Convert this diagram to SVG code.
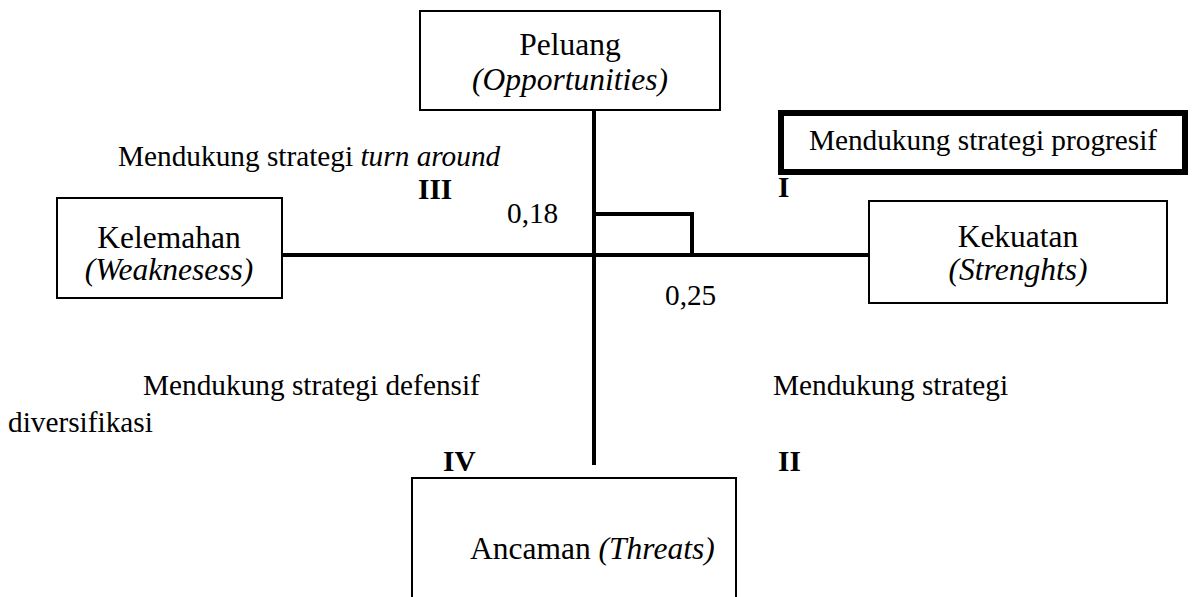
<svg xmlns="http://www.w3.org/2000/svg" width="1194" height="597" viewBox="0 0 1194 597">
<style>
text{font-family:"Liberation Serif","Times New Roman",serif;fill:#000}
.b{font-size:31.5px}
.s{font-size:29.3px}
.r{font-size:29.3px;font-weight:bold}
.i{font-style:italic}
.box{fill:#fff;stroke:#000;stroke-width:2}
.ln{stroke:#000;stroke-width:4;fill:none}
</style>
<rect width="1194" height="597" fill="#fff"/>
<g id="connectors">
<line class="ln" x1="594" y1="110" x2="594" y2="465"/>
<line class="ln" x1="282" y1="255" x2="869" y2="255"/>
<polyline class="ln" points="594,214 692,214 692,255"/>
</g>
<g id="peluang">
<rect class="box" x="420" y="11" width="300" height="99"/>
<text class="b" x="570" y="55" text-anchor="middle">Peluang</text>
<text class="b i" x="570" y="90" text-anchor="middle">(Opportunities)</text>
</g>
<g id="kekuatan">
<rect class="box" x="869" y="201" width="298" height="102"/>
<text class="b" x="1018" y="247" text-anchor="middle">Kekuatan</text>
<text class="b i" x="1018" y="280" text-anchor="middle">(Strenghts)</text>
</g>
<g id="kelemahan">
<rect class="box" x="57" y="198" width="225" height="100"/>
<text class="b" x="169" y="248" text-anchor="middle">Kelemahan</text>
<text class="b i" x="169" y="280" text-anchor="middle">(Weaknesess)</text>
</g>
<g id="ancaman">
<rect class="box" x="412" y="478" width="324" height="130"/>
<text class="b" x="470" y="559">Ancaman <tspan class="i">(Threats)</tspan></text>
</g>
<g id="progresif">
<rect x="781" y="113" width="404" height="59" fill="#fff" stroke="#000" stroke-width="6"/>
<text class="s" x="983" y="150" text-anchor="middle">Mendukung strategi progresif</text>
</g>
<g id="labels">
<text class="s" x="118" y="166">Mendukung strategi <tspan class="i">turn around</tspan></text>
<text class="r" x="418" y="199">III</text>
<text class="r" x="778" y="197">I</text>
<text class="s" x="507" y="223">0,18</text>
<text class="s" x="665" y="305">0,25</text>
<text class="s" x="143" y="395">Mendukung strategi defensif</text>
<text class="s" x="8" y="432">diversifikasi</text>
<text class="s" x="773" y="395">Mendukung strategi</text>
<text class="r" x="443" y="471">IV</text>
<text class="r" x="778" y="471">II</text>
</g>
</svg>
